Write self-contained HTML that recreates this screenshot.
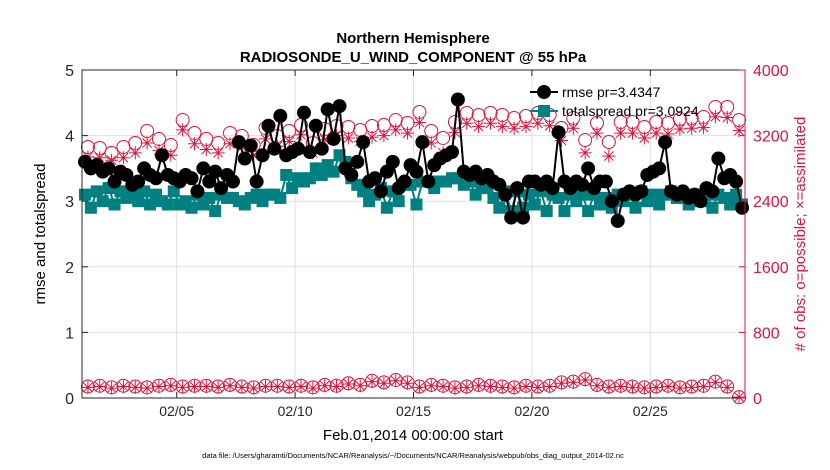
<!DOCTYPE html>
<html><head><meta charset="utf-8">
<style>
html,body{margin:0;padding:0;background:#fff;}
svg{display:block;font-family:"Liberation Sans",Arial,sans-serif;}
</style></head>
<body>
<svg id="chart" width="830" height="470" viewBox="0 0 830 470">
  <rect width="830" height="470" fill="#fff"/>
  <g id="grid"></g>
  <g id="series"></g>
  <rect x="82" y="70" width="663" height="328" fill="none" stroke="#262626" stroke-width="1"/>
  <line x1="745" y1="70" x2="745" y2="398" stroke="#dc143c" stroke-width="1"/>
  <g id="axes"></g>
  <text x="413" y="43" font-size="15" font-weight="bold" text-anchor="middle" fill="#000">Northern Hemisphere</text>
  <text x="413" y="62" font-size="15" font-weight="bold" text-anchor="middle" fill="#000">RADIOSONDE_U_WIND_COMPONENT @ 55 hPa</text>
  <text transform="translate(45,234) rotate(-90)" font-size="15" text-anchor="middle" fill="#000">rmse and totalspread</text>
  <text transform="translate(805,234) rotate(-90)" font-size="15" text-anchor="middle" fill="#dc143c"># of obs: o=possible; ×=assimilated</text>
  <text x="413" y="440" font-size="15" text-anchor="middle" fill="#000">Feb.01,2014 00:00:00 start</text>
  <text x="413" y="458" font-size="7.5" text-anchor="middle" fill="#000">data file: /Users/gharamti/Documents/NCAR/Reanalysis/~/Documents/NCAR/Reanalysis/webpub/obs_diag_output_2014-02.nc</text>
  <g id="legend">
    <g>
      <line x1="530" y1="92" x2="558" y2="92" stroke="#000" stroke-width="2"/>
      <circle cx="544" cy="92" r="7" fill="#000"/>
      <text x="562" y="97" font-size="14" fill="#000">rmse pr=3.4347</text>
    </g>
    <g>
      <line x1="530" y1="111" x2="558" y2="111" stroke="#008080" stroke-width="2"/>
      <rect x="538" y="105" width="12" height="12" fill="#008080"/>
      <text x="562" y="116" font-size="14" fill="#000">totalspread pr=3.0924</text>
    </g>
  </g>
</svg>
<script>
const xTickLabels = ["02/05","02/10","02/15","02/20","02/25"];
const xTickDays = [4,9,14,19,24];
const leftTicks = [0,1,2,3,4,5];
const rightTicks = [0,800,1600,2400,3200,4000];
const rmse = [3.6,3.5,3.55,3.45, 3.5,3.3,3.45,3.4, 3.25,3.3,3.5,3.4, 3.35,3.7,3.4,3.35,
  3.3,3.4,3.35,3.15, 3.5,3.3,3.45,3.2, 3.4,3.3,3.9,3.65, 3.85,3.3,3.7,4.15,
  3.8,4.3,3.7,3.75, 3.8,4.35,3.75,4.15, 3.8,4.4,3.95,4.45, 3.5,3.4,3.6,3.9,
  3.3,3.35,3.15,3.45, 3.6,3.2,3.3,3.55, 3.45,3.9,3.3,3.55, 3.65,3.7,3.75,4.55,
  3.45,3.4,3.45,3.35, 3.4,3.3,3.25,3.1, 2.75,3.2,2.75,3.3, 3.3,3.25,3.3,3.2,
  4.05,3.3,3.2,3.3, 3.25,3.5,3.2,3.3, 3.3,3.0,2.7,3.1, 3.15,3.1,3.15,3.4,
  3.45,3.5,3.9,3.15, 3.1,3.15,3.05,3.1, 3.0,3.2,3.15,3.65, 3.35,3.4,3.3,2.9];
const totalspread = [3.1,2.9,3.15,3.0, 3.2,2.95,3.15,3.05, 3.1,3.0,3.15,2.95, 3.1,3.0,2.95,3.15,
  2.95,3.0,2.9,3.1, 2.95,3.05,2.85,3.1, 3.05,3.05,3.0,2.95, 3.05,3.1,3.0,3.1,
  3.1,3.05,3.4,3.2, 3.35,3.3,3.35,3.5, 3.4,3.55,3.45,3.7, 3.6,3.35,3.25,3.15,
  3.0,3.1,3.2,2.9, 3.15,3.0,3.25,3.25, 2.95,3.3,3.3,3.2, 3.3,3.3,3.35,3.35,
  3.25,3.3,3.1,3.2, 3.2,3.05,2.9,3.15, 2.85,3.15,2.9,3.1, 2.95,3.15,2.85,3.1,
  3.05,2.85,3.1,3.0, 3.1,2.85,3.1,2.95, 3.05,2.9,3.1,3.0, 3.1,2.9,3.15,3.0,
  3.1,2.95,3.1,3.15, 3.05,3.05,2.95,3.1, 3.0,3.1,2.9,3.1, 3.05,2.95,3.1,2.95];
const obsPossible = [3061,3049,2988,3061,3110,3256,3159,3085, 3390,3232,3159,3110,3232,3195,3085,3293,
  3195,3256,3329,3110,3280,3317, 3305,3268,3317,3329,3390,3354,3488,3256,3171,3366,
  3476,3451,3476,3451,3415,3439,3476,3451,3293,3415, 3146,3354,3122,3366,3366,3305,
  3366,3354,3402,3415,3427,3549,3549,3390];
const obsAssimilated = [2940,2930,2900,2930,2990,3110,3020,2960, 3270,3100,3030,2990,3100,3060,2960,3160,
  3070,3130,3210,2990,3150,3200, 3170,3130,3180,3200,3270,3230,3360,3110,2990,3240,
  3350,3310,3350,3310,3290,3310,3350,3320,3140,3290, 2990,3230,2950,3230,3230,3170,
  3230,3220,3280,3290,3300,3430,3420,3260];
const lowPossible = [140,150,130,150,140,130,150,160,140,150,150,140,160,140,130,150,
  150,140,150,130,160,150,180,160,210,190,220,190,140,160,150,130,140,160,150,140,
  130,150,140,150,190,200,230,160,140,150,140,130,140,150,130,140,150,200,140,10];
const lowAssimilated = [130,140,120,140,130,120,140,150,130,140,140,130,150,130,120,140,
  140,130,140,120,150,140,170,150,200,180,210,180,130,150,140,120,130,150,140,130,
  120,140,130,140,180,190,220,150,130,140,130,120,130,140,120,130,140,190,130,10];

const NS = "http://www.w3.org/2000/svg";
const X0 = 82, X1 = 745, Y0 = 398, Y1 = 70, DAYS = 28;
const xs = d => X0 + (d / DAYS) * (X1 - X0);
const yl = v => Y0 - (v / 5) * (Y0 - Y1);
const yr = v => Y0 - (v / 4000) * (Y0 - Y1);
function mk(tag, attrs, parent) {
  const e = document.createElementNS(NS, tag);
  for (const k in attrs) e.setAttribute(k, attrs[k]);
  parent.appendChild(e);
  return e;
}
const grid = document.getElementById('grid');
const axes = document.getElementById('axes');
const series = document.getElementById('series');

xTickDays.forEach((d, i) => {
  const g = mk('line', {x1: xs(d), x2: xs(d), y1: Y1, y2: Y0, stroke: '#e0e0e0', 'stroke-width': 1}, grid);
  
  
  const t = mk('line', {x1: xs(d), x2: xs(d), y1: Y0, y2: Y0 - 6, stroke: '#262626'}, axes);
  
  
  const t2 = mk('line', {x1: xs(d), x2: xs(d), y1: Y1, y2: Y1 + 6, stroke: '#262626'}, axes);
  
  
  const lb = mk('text', {x: xs(d), y: 416, 'font-size': 14, 'text-anchor': 'middle', fill: '#262626'}, axes);
  lb.textContent = xTickLabels[i];
  
  
});
leftTicks.forEach(v => {
  if (v > 0 && v < 5) {
    const g = mk('line', {x1: X0, x2: X1, y1: yl(v), y2: yl(v), stroke: '#eed8e0', 'stroke-width': 1}, grid);
    
    
  }
  const t = mk('line', {x1: X0, x2: X0 + 6, y1: yl(v), y2: yl(v), stroke: '#262626'}, axes);
  
  
  const lb = mk('text', {x: X0 - 8, y: yl(v) + 6, 'font-size': 16, 'text-anchor': 'end', fill: '#262626'}, axes);
  lb.textContent = v;
  
  
});
rightTicks.forEach(v => {
  const t = mk('line', {x1: X1 - 6, x2: X1, y1: yr(v), y2: yr(v), stroke: '#dc143c'}, axes);
  
  
  const lb = mk('text', {x: X1 + 8, y: yr(v) + 6, 'font-size': 16, 'text-anchor': 'start', fill: '#dc143c'}, axes);
  lb.textContent = v;
  
  
});

const CR = '#dc143c';
function obsCircles(vals, name) {
  vals.forEach((v, i) => {
    const c = mk('circle', {cx: xs(i * 0.5 + 0.25), cy: yr(v), r: 6.5, fill: 'none', stroke: CR, 'stroke-width': 1}, series);
    
    
  });
}
function obsStars(vals, name) {
  vals.forEach((v, i) => {
    const cx = xs(i * 0.5 + 0.25), cy = yr(v), s = 6.5, d = 4.6;
    const p = mk('path', {d: `M${cx - s},${cy}H${cx + s}M${cx},${cy - s}V${cy + s}M${cx - d},${cy - d}L${cx + d},${cy + d}M${cx - d},${cy + d}L${cx + d},${cy - d}`, stroke: CR, 'stroke-width': 1, fill: 'none'}, series);
    
    
  });
}
obsCircles(obsPossible, 'obs-possible-marker');
obsStars(obsAssimilated, 'obs-assimilated-marker');
obsCircles(lowPossible, 'obs-possible-low-marker');
obsStars(lowAssimilated, 'obs-assimilated-low-marker');

const tq = i => i * 0.25 + 0.125;
const sp = mk('polyline', {points: totalspread.map((v, i) => xs(tq(i)) + ',' + yl(v)).join(' '), fill: 'none', stroke: '#008080', 'stroke-width': 2}, series);


totalspread.forEach((v, i) => {
  const r = mk('rect', {x: xs(tq(i)) - 6, y: yl(v) - 6, width: 12, height: 12, fill: '#008080'}, series);
  
  
});
const rl = mk('polyline', {points: rmse.map((v, i) => xs(tq(i)) + ',' + yl(v)).join(' '), fill: 'none', stroke: '#000', 'stroke-width': 2}, series);


rmse.forEach((v, i) => {
  const c = mk('circle', {cx: xs(tq(i)), cy: yl(v), r: 7, fill: '#000'}, series);
  
  
});
</script>
</body></html>
